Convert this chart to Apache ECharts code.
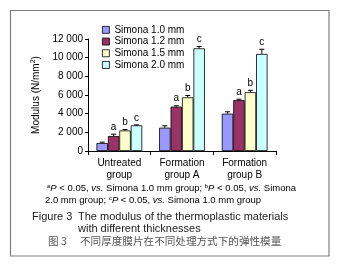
<!DOCTYPE html>
<html><head><meta charset="utf-8">
<script src="https://cdn.jsdelivr.net/npm/echarts@6/dist/echarts.min.js"></script>
<style>html,body{margin:0;padding:0;background:#fff}#c{width:340px;height:268px}</style>
</head><body><div id="c"></div>
<script>
var categories = ['Untreated\ngroup', 'Formation\ngroup A', 'Formation\ngroup B'];
var seriesNames = ['Simona 1.0 mm', 'Simona 1.2 mm', 'Simona 1.5 mm', 'Simona 2.0 mm'];
var simona10 = [850, 2500, 4000];
var simona12 = [1600, 4750, 5450];
var simona15 = [2200, 5750, 6300];
var simona20 = [2750, 11000, 10400];
var err10 = [100, 200, 200];
var err12 = [200, 100, 100];
var err15 = [100, 200, 200];
var err20 = [50, 200, 500];
var sig10 = ['', '', ''];
var sig12 = ['a', 'a', 'a'];
var sig15 = ['b', 'b', 'b'];
var sig20 = ['c', 'c', 'c'];
var yTicks = [0, 2000, 4000, 6000, 8000, 10000, 12000];

var colors = ['#9999FF', '#993366', '#FFFFCC', '#CCFFFF'];
var values = [simona10, simona12, simona15, simona20];
var errs = [err10, err12, err15, err20];
var sigs = [sig10, sig12, sig15, sig20];
var FONT = 'Liberation Sans, Arial, sans-serif';
var GAP = 0.27;

function fmt(v) {
  var s = String(v);
  if (s.length > 3) s = s.slice(0, s.length - 3) + ' ' + s.slice(s.length - 3);
  return s;
}

var series = [];
values.forEach(function (vals, i) {
  series.push({
    name: seriesNames[i], type: 'bar', data: vals,
    barGap: '0%', barCategoryGap: (GAP * 100) + '%',
    itemStyle: { color: colors[i], borderColor: '#000', borderWidth: 0.8 },
    silent: true
  });
});
values.forEach(function (vals, i) {
  var d = vals.map(function (v, j) { return [j, v, errs[i][j]]; });
  series.push({
    type: 'custom', data: d, z: 10, silent: true,
    renderItem: function (params, api) {
      var j = api.value(0), v = api.value(1), e = api.value(2);
      var letter = sigs[i][j];
      var band = api.size([1, 0])[0];
      var bw = band * (1 - GAP) / 4;
      var c = api.coord([j, v]);
      var x = c[0] + (i - 1.5) * bw;
      var yTop = api.coord([j, v + e])[1];
      var ch = [
        { type: 'line', shape: { x1: x, y1: c[1], x2: x, y2: yTop }, style: { stroke: '#000', lineWidth: 1 } },
        { type: 'line', shape: { x1: x - 2.5, y1: yTop, x2: x + 2.5, y2: yTop }, style: { stroke: '#000', lineWidth: 1 } }
      ];
      if (letter) {
        ch.push({ type: 'text', style: { text: letter, x: x, y: yTop - 2, textAlign: 'center', textVerticalAlign: 'bottom', font: '10px ' + FONT, fill: '#000' } });
      }
      return { type: 'group', children: ch };
    }
  });
});

var supRich = { s: { fontSize: 6, verticalAlign: 'top', padding: [0, 0, 5, 0] }, i: { fontStyle: 'italic', fontSize: 9.5 } };

var chart = echarts.init(document.getElementById('c'), null, { renderer: 'canvas' });
chart.setOption({
  backgroundColor: '#fff',
  animation: false,
  textStyle: { fontFamily: FONT },
  legend: {
    data: seriesNames, orient: 'vertical', left: 102, top: 24, padding: 0,
    itemWidth: 7, itemHeight: 7, itemGap: 0, icon: 'rect',
    textStyle: { fontSize: 10, color: '#000', fontFamily: FONT, lineHeight: 11.7 },
    itemStyle: { borderColor: '#000', borderWidth: 0.8 }
  },
  grid: { left: 88, right: 64, top: 39, bottom: 117 },
  xAxis: {
    type: 'category', data: categories,
    axisLine: { lineStyle: { color: '#000', width: 1 } },
    axisTick: { show: true, length: 4, alignWithLabel: false, lineStyle: { color: '#000' } },
    axisLabel: { fontSize: 10, color: '#000', lineHeight: 12, margin: 6, fontFamily: FONT }
  },
  yAxis: {
    type: 'value', min: 0, max: 12000, interval: 2000,
    name: 'Modulus (N/mm{sup|2})', nameLocation: 'middle', nameGap: 34, nameRotate: 90,
    nameTextStyle: { fontSize: 10, color: '#000', fontFamily: FONT, rich: { sup: { fontSize: 7, verticalAlign: 'top', padding: [0, 0, 6, 0] } } },
    axisLine: { show: true, lineStyle: { color: '#000', width: 1 } },
    axisTick: { show: true, length: 3, lineStyle: { color: '#000' } },
    splitLine: { show: false },
    axisLabel: { fontSize: 10, color: '#000', margin: 5, fontFamily: FONT, formatter: function (v) { return yTicks.indexOf(v) >= 0 ? fmt(v) : ''; } }
  },
  graphic: [
    { type: 'rect', shape: { x: 10.5, y: 10.5, width: 318.5, height: 245.5 }, style: { fill: 'none', stroke: '#7f7f7f', lineWidth: 1.2 }, z: -1 },
    { type: 'text', left: 47, top: 183, style: {
        text: '{s|a}{i|P} < 0.05, {i|vs.} Simona 1.0 mm group; {s|b}{i|P} < 0.05, {i|vs.} Simona',
        font: '9.5px ' + FONT, fill: '#000', rich: supRich } },
    { type: 'text', left: 45, top: 195, style: {
        text: '2.0 mm group; {s|c}{i|P} < 0.05, {i|vs.} Simona 1.0 mm group',
        font: '9.5px ' + FONT, fill: '#000', rich: supRich } },
    { type: 'text', left: 32, top: 211, style: { text: 'Figure 3', font: '11px ' + FONT, fill: '#222' } },
    { type: 'text', left: 78, top: 211, style: { text: 'The modulus of the thermoplastic materials', font: '11px ' + FONT, fill: '#222' } },
    { type: 'text', left: 78, top: 223, style: { text: 'with different thicknesses', font: '11px ' + FONT, fill: '#222' } },
    { type: 'text', left: 48, top: 236, style: { text: '图 3', font: '10.6px "Noto Sans CJK SC", sans-serif', fill: '#555' } },
    { type: 'text', left: 80, top: 236, style: { text: '不同厚度膜片在不同处理方式下的弹性模量', font: '10.6px "Noto Sans CJK SC", sans-serif', fill: '#555' } }
  ],
  series: series
});
</script></body></html>
